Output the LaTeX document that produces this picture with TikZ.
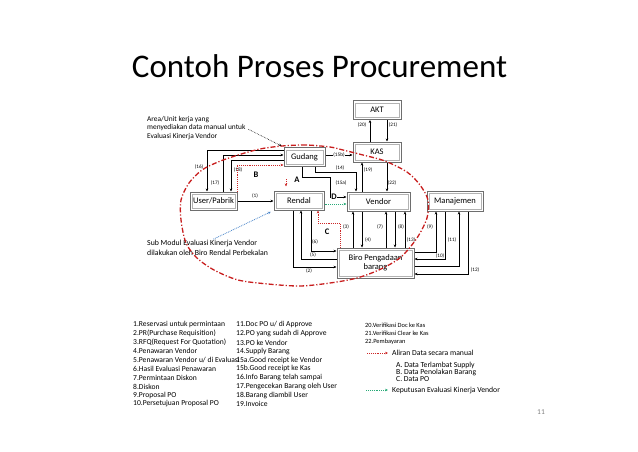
\documentclass[tikz,border=0pt]{standalone}
\usepackage{fontspec}
\setmainfont{Carlito}
\usetikzlibrary{arrows.meta}

\definecolor{manualred}{RGB}{205,40,40}
\definecolor{loopred}{RGB}{200,30,30}
\definecolor{evalgreen}{RGB}{40,170,120}
\definecolor{noteblue}{RGB}{70,130,200}
\definecolor{boxgray}{RGB}{110,110,110}

\begin{document}
\begin{tikzpicture}[x=1pt,y=-1pt,
    >={Stealth[length=3pt,width=2.6pt]},
    unitbox/.style={draw=boxgray,line width=1pt,fill=white,inner sep=0pt,align=center,
        font=\fontsize{8.5}{9.5}\selectfont,
        path picture={\draw[gray!60,line width=0.4pt]
            ([shift={(2.2pt,-2.2pt)}]path picture bounding box.north west) rectangle
            ([shift={(-2.2pt,2.2pt)}]path picture bounding box.south east);}},
    flow/.style={->,line width=0.5pt},
    manual/.style={->,manualred,densely dotted,line width=0.9pt},
    evaluation/.style={->,evalgreen,densely dotted,line width=0.9pt},
    lbl/.style={font=\fontsize{5.2}{6}\selectfont,inner sep=0pt},
    tag/.style={font=\bfseries\fontsize{8.5}{9}\selectfont,inner sep=0pt},
    legtext/.style={anchor=west,inner sep=0pt,font=\fontsize{7.6}{9}\selectfont}]
    \useasboundingbox (0,0) rectangle (638,451);

    \node[font=\fontsize{33}{36}\selectfont,anchor=base] (title) at (319.5,77) {Contoh Proses Procurement};

    % units
    \node[unitbox,minimum width=48pt,minimum height=19pt] (akt) at (377,110) {AKT};
    \node[unitbox,minimum width=48pt,minimum height=20pt] (kas) at (377,152) {KAS};
    \node[unitbox,minimum width=41pt,minimum height=19pt] (gudang) at (304.5,157) {Gudang};
    \node[unitbox,minimum width=47pt,minimum height=18pt] (user) at (213.5,201) {User/Pabrik};
    \node[unitbox,minimum width=50pt,minimum height=19pt] (rendal) at (299,200.5) {Rendal};
    \node[unitbox,minimum width=63pt,minimum height=19pt] (vendor) at (378.5,201.5) {Vendor};
    \node[unitbox,minimum width=56pt,minimum height=20pt] (manajemen) at (455,201) {Manajemen};
    \node[unitbox,minimum width=77pt,minimum height=30pt] (biro) at (375.5,263) {Biro Pengadaan\\barang};

    % AKT / KAS / Vendor
    \draw[flow] (kas.north -| 370,0) -- (akt.south -| 370,0);
    \draw[flow] (akt.south -| 387,0) -- (kas.north -| 387,0);
    \draw[flow] (vendor.north -| 362,0) -- (kas.south -| 362,0);
    \draw[flow] (kas.south -| 387,0) -- (vendor.north -| 387,0);

    % Gudang
    \draw[flow] (gudang.east |- 0,155) -- (kas.west |- 0,155);
    \draw[flow] (gudang.south -| 315,0) -- (315,172) -- (356,172) -- (vendor.north -| 356,0);
    \draw[flow] (gudang.south -| 302,0) -- (302,177) -- (330,177) -- (330,197) -- (vendor.west |- 0,197);
    \draw[flow] (gudang.west |- 0,150) -- (207,150) -- (user.north -| 207,0);
    \draw[flow] (user.north -| 223,0) -- (223,155) -- (gudang.west |- 0,155);
    \draw[flow] (gudang.west |- 0,160) -- (231,160) -- (user.north -| 231,0);

    % User / Rendal
    \draw[flow] (user.east) -- (rendal.west |- user.east);

    % Rendal / Biro
    \draw[flow] (rendal.south -| 293,0) -- (293,267) -- (biro.west |- 0,267);
    \draw[flow] (biro.west |- 0,259) -- (301,259) -- (rendal.south -| 301,0);
    \draw[flow] (rendal.south -| 311,0) -- (311,251) -- (biro.west |- 0,251);

    % Vendor / Biro
    \draw[flow] (biro.north -| 353,0) -- (vendor.south -| 353,0);
    \draw[flow] (vendor.south -| 362,0) -- (biro.north -| 362,0);
    \draw[flow] (biro.north -| 386,0) -- (vendor.south -| 386,0);
    \draw[flow] (vendor.south -| 395,0) -- (biro.north -| 395,0);
    \draw[flow] (biro.north -| 405,0) -- (vendor.south -| 405,0);

    % Manajemen / Biro
    \draw[flow] (biro.east |- 0,252) -- (436,252) -- (manajemen.south -| 436,0);
    \draw[flow] (manajemen.south -| 445,0) -- (445,259) -- (biro.east |- 0,259);
    \draw[flow] (biro.east |- 0,266) -- (459,266) -- (manajemen.south -| 459,0);
    \draw[flow] (manajemen.south -| 468,0) -- (468,274) -- (biro.east |- 0,274);

    \foreach \lab/\x/\y in {1/255/196,2/309/271,3/346/227,4/368/240,5/313/255,6/315/242,
        7/380/227,8/401/227,9/430/227,10/440/256,11/452/240,12/475/270,13/411/240,
        14/340/168,15a/341/183,16/199/167,17/215/183,18/238/170,19/368/170,
        20/362/125,21/393/125,22/392/183} {
        \node[lbl] (l\lab) at (\x,\y) {(\lab)};
    }
    \node[lbl,fill=white,inner sep=0.5pt] (l15b) at (339,155) {(15b)};

    % manual data A, B, C
    \draw[manual,shorten <=12pt,shorten >=4pt] (gudang.south -| 286,0) -- (rendal.north -| 286,0);
    \draw[manual] (user.north -| 237,0) -- (237,165) -- (gudang.west |- 0,165);
    \draw[manual] (biro.north -| 340,0) -- (340,223) -- (318,223) -- (rendal.south -| 318,0);
    \draw[evaluation] (rendal.east |- 0,204) -- (vendor.west |- 0,204);
    \node[tag] (taga) at (297,180) {A};
    \node[tag] (tagb) at (256,175) {B};
    \node[tag] (tagc) at (327,232) {C};
    \node[tag,fill=white,inner sep=0.5pt] (tagd) at (334,197) {D};

    % notes
    \node[anchor=north west,align=left,inner sep=0pt,font=\fontsize{7.4}{8.5}\selectfont] (areanote) at (147,116) {Area/Unit kerja yang\\menyediakan data manual untuk\\Evaluasi Kinerja Vendor};
    \draw[->,densely dotted,line width=0.6pt,shorten <=3pt,shorten >=2pt] (areanote.east) -- (gudang.north west);
    \node[anchor=north west,align=left,inner sep=0pt,font=\fontsize{7.8}{10}\selectfont] (subnote) at (147,240) {Sub Modul Evaluasi Kinerja Vendor\\dilakukan oleh Biro Rendal Perbekalan};
    \draw[->,noteblue,densely dotted,line width=0.8pt,shorten <=2pt,shorten >=3pt] ([xshift=4pt]subnote.north) -- (rendal.south west);

    % area of the vendor evaluation
    \draw[loopred,line width=1.3pt,dash pattern=on 5pt off 2pt on 1.2pt off 2pt]
        plot[smooth cycle] coordinates {(330,147) (306,145) (282,146) (260,149) (238,155) (218,162)
        (202,170) (189,183) (181,200) (181,220) (186,243) (197,258) (214,270) (238,280) (268,284)
        (300,286) (330,283) (357,278) (381,269) (401,257) (417,238) (427,218) (428,200) (420,185)
        (407,172) (385,161) (363,155) (343,150)};

    % legend
    \foreach \txt [count=\i] in {1.Reservasi untuk permintaan, 2.PR(Purchase Requisition), 3.RFQ(Request For Quotation),
        4.Penawaran Vendor, 5.Penawaran Vendor u/ di Evaluasi, 6.Hasil Evaluasi Penawaran, 7.Permintaan Diskon,
        8.Diskon, 9.Proposal PO, 10.Persetujuan Proposal PO} {
        \node[legtext] (la\i) at (133,316+8.8*\i) {\txt};
    }
    \foreach \txt [count=\i] in {11.Doc PO u/ di Approve, 12.PO yang sudah di Approve, 13.PO ke Vendor,
        14.Supply Barang, 15a.Good receipt ke Vendor, 15b.Good receipt ke Kas, 16.Info Barang telah sampai,
        17.Pengecekan Barang oleh User, 18.Barang diambil User, 19.Invoice} {
        \node[legtext] (lb\i) at (236,316+8.8*\i) {\txt};
    }
    \foreach \txt [count=\i] in {20.Verifikasi Doc ke Kas, 21.Verifikasi Clear ke Kas, 22.Pembayaran} {
        \node[legtext,font=\fontsize{6.4}{7}\selectfont] (lc\i) at (365,316.5+8.5*\i) {\txt};
    }
    \node[legtext,font=\fontsize{7.7}{8}\selectfont] (legman) at (392,353) {Aliran Data secara manual};
    \draw[manual] ([xshift=-25pt]legman.west) -- ([xshift=-4pt]legman.west);
    \node[legtext,anchor=north west,align=left,font=\fontsize{7.7}{7}\selectfont] (legabc) at (396,362) {A. Data Terlambat Supply\\B. Data Penolakan Barang\\C. Data PO};
    \node[legtext,font=\fontsize{7.7}{8}\selectfont] (legeval) at (392,390) {Keputusan Evaluasi Kinerja Vendor};
    \draw[evaluation] ([xshift=-26pt]legeval.west) -- ([xshift=-4pt]legeval.west);

    \node[font=\fontsize{7.5}{8}\selectfont,text=gray] (pagenum) at (541,412) {11};
\end{tikzpicture}
\end{document}
